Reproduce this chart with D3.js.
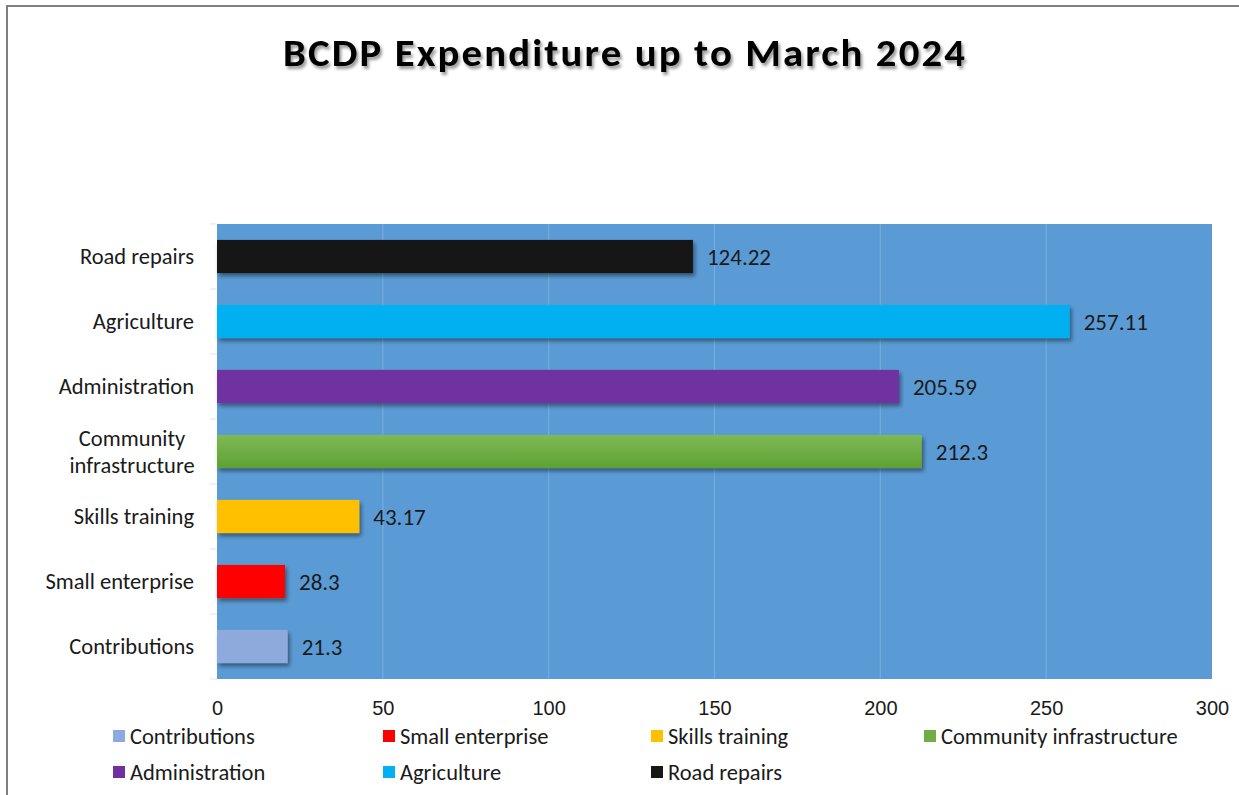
<!DOCTYPE html>
<html>
<head>
<meta charset="utf-8">
<script src="https://cdn.jsdelivr.net/npm/d3@7"></script>
<style>
  html, body { margin: 0; padding: 0; background: #fff; }
  svg { display: block; font-family: Carlito, Calibri, Lato, "Open Sans", sans-serif; }
</style>
</head>
<body>
<svg id="chart" width="1239" height="795"></svg>
<script>
// ---- data ----
const categories = ["Contributions", "Small enterprise", "Skills training", "Community infrastructure", "Administration", "Agriculture", "Road repairs"];
const barValues = [21.3, 20.5, 42.9, 212.5, 205.6, 257.1, 143.5];
const valueLabels = ["21.3", "28.3", "43.17", "212.3", "205.59", "257.11", "124.22"];
const barColors = ["#8EA9DB", "#FF0000", "#FFC000", "#70AD47", "#7030A0", "#00B0F0", "#171717"];
const xTicks = [0, 50, 100, 150, 200, 250, 300];
const titleText = "BCDP Expenditure up to March 2024";

const svg = d3.select("#chart");
const W = 1239, H = 795;
const plot = { left: 217, right: 1212, top: 224, bottom: 679 };
const labelSize = 22.5, valueSize = 23, tickSize = 20;

const defs = svg.append("defs");
const sh = defs.append("filter").attr("id", "barShadow").attr("x", "-10%").attr("y", "-30%").attr("width", "130%").attr("height", "180%");
sh.append("feDropShadow").attr("dx", 2).attr("dy", 3).attr("stdDeviation", 2).attr("flood-color", "#000").attr("flood-opacity", 0.45);
const tsh = defs.append("filter").attr("id", "titleShadow").attr("x", "-5%").attr("y", "-30%").attr("width", "110%").attr("height", "180%");
tsh.append("feDropShadow").attr("dx", 2).attr("dy", 3).attr("stdDeviation", 1.5).attr("flood-color", "#000").attr("flood-opacity", 0.4);
const grad = defs.append("linearGradient").attr("id", "greenGrad").attr("x1", 0).attr("y1", 0).attr("x2", 0).attr("y2", 1);
grad.append("stop").attr("offset", "0%").attr("stop-color", "#7DB955");
grad.append("stop").attr("offset", "100%").attr("stop-color", "#5FA133");

// border
svg.append("rect").attr("x", 7).attr("y", 6).attr("width", W + 20).attr("height", H + 20)
  .attr("fill", "#fff").attr("stroke", "#7F7F7F").attr("stroke-width", 2);

// title
svg.append("text").attr("x", 625).attr("y", 66).attr("text-anchor", "middle")
  .attr("font-size", 38).attr("font-weight", "bold").attr("fill", "#000")
  .attr("letter-spacing", 2)
  .attr("textLength", 684).attr("lengthAdjust", "spacingAndGlyphs")
  .attr("filter", "url(#titleShadow)")
  .text(titleText);

const x = d3.scaleLinear().domain([0, 300]).range([plot.left, plot.right]);
const y = d3.scaleBand().domain(categories.slice().reverse()).range([plot.top, plot.bottom])
  .paddingInner(0.49).paddingOuter(0.245);

// plot background
svg.append("rect").attr("x", plot.left).attr("y", plot.top)
  .attr("width", plot.right - plot.left).attr("height", plot.bottom - plot.top)
  .attr("fill", "#5B9BD5");

// gridlines
svg.append("g").selectAll("line").data(xTicks.filter(d => d > 0 && d < 300)).join("line")
  .attr("x1", d => x(d)).attr("x2", d => x(d))
  .attr("y1", plot.top).attr("y2", plot.bottom)
  .attr("stroke", "#74ACDE").attr("stroke-width", 1.2);

// category ticks on the left
const step = y.step();
const boundaries = d3.range(categories.length + 1).map(i => plot.top + i * step);
svg.append("g").selectAll("line").data(boundaries).join("line")
  .attr("x1", plot.left - 7).attr("x2", plot.left)
  .attr("y1", d => d).attr("y2", d => d)
  .attr("stroke", "#E3E3E3").attr("stroke-width", 1);

// bars
const data = categories.map((c, i) => ({ c, v: barValues[i], label: valueLabels[i], color: barColors[i] }));
svg.append("g").selectAll("rect").data(data).join("rect")
  .attr("x", x(0)).attr("y", d => y(d.c))
  .attr("width", d => x(d.v) - x(0)).attr("height", y.bandwidth())
  .attr("fill", d => d.c === "Community infrastructure" ? "url(#greenGrad)" : d.color)
  .attr("filter", "url(#barShadow)");

// value labels
svg.append("g").selectAll("text").data(data).join("text")
  .attr("x", d => x(d.v) + 14).attr("y", d => y(d.c) + y.bandwidth() / 2)
  .attr("dy", "0.35em").attr("font-size", valueSize).attr("fill", "#1A1A1A")
  .text(d => d.label);

// category labels
const catG = svg.append("g");
data.forEach(d => {
  const cy = y(d.c) + y.bandwidth() / 2;
  if (d.c === "Community infrastructure") {
    const lines = ["Community", "infrastructure"];
    const t = catG.append("text").attr("font-size", labelSize).attr("fill", "#1A1A1A").attr("text-anchor", "middle");
    lines.forEach((l, i) => {
      t.append("tspan").attr("x", 132).attr("y", cy + (i - 0.5) * 27).attr("dy", "0.35em").text(l);
    });
  } else {
    catG.append("text").attr("x", 194).attr("y", cy).attr("dy", "0.35em")
      .attr("text-anchor", "end").attr("font-size", labelSize).attr("fill", "#1A1A1A").text(d.c);
  }
});

// x axis
const xAxis = d3.axisBottom(x).tickValues(xTicks).tickSize(0).tickPadding(22);
const ax = svg.append("g").attr("transform", `translate(0,${plot.bottom})`).call(xAxis);
ax.select(".domain").remove();
ax.selectAll("text").attr("font-size", tickSize).attr("fill", "#1A1A1A").attr("font-family", null);

// legend
const legendPos = [[113, 736], [383, 736], [651, 736], [924, 736], [113, 772], [383, 772], [651, 772]];
const lg = svg.append("g").selectAll("g").data(data).join("g")
  .attr("transform", (d, i) => `translate(${legendPos[i][0]},${legendPos[i][1]})`);
lg.append("rect").attr("x", 0).attr("y", -6).attr("width", 12).attr("height", 12)
  .attr("fill", d => d.color);
lg.append("text").attr("x", 17).attr("y", 0).attr("dy", "0.35em").attr("font-size", labelSize)
  .attr("fill", "#1A1A1A").text(d => d.c);
</script>
</body>
</html>
